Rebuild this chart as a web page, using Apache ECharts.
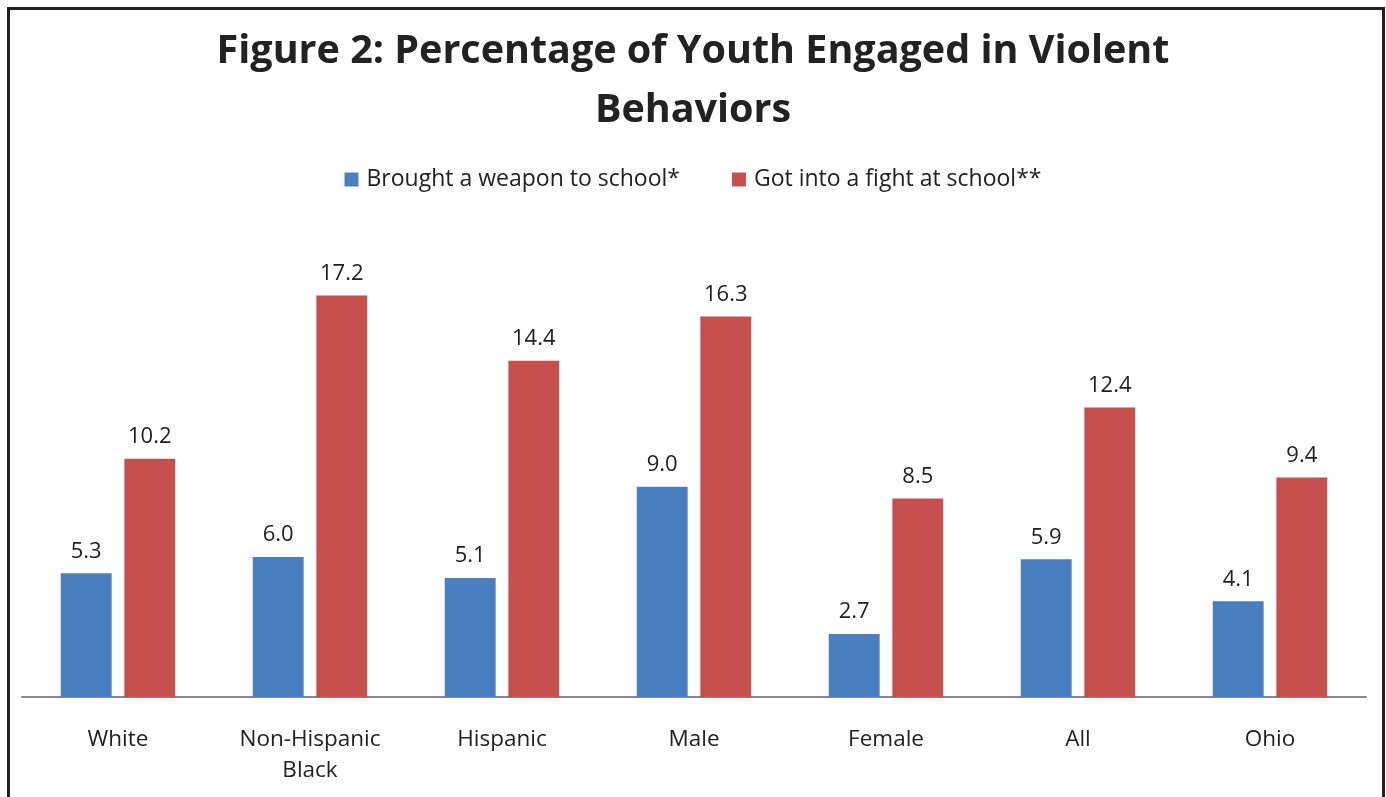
<!DOCTYPE html>
<html>
<head>
<meta charset="utf-8">
<script src="https://cdn.jsdelivr.net/npm/echarts@6/dist/echarts.min.js"></script>
<style>
  html, body { margin: 0; padding: 0; background: #fff; }
  #chart { width: 1386px; height: 797px; }
</style>
</head>
<body>
<div id="chart"></div>
<script>
const categories = ['White', 'Non-Hispanic\nBlack', 'Hispanic', 'Male', 'Female', 'All', 'Ohio'];
const weaponValues = [5.3, 6.0, 5.1, 9.0, 2.7, 5.9, 4.1];
const fightValues = [10.2, 17.2, 14.4, 16.3, 8.5, 12.4, 9.4];
const seriesNames = ['Brought a weapon to school*', 'Got into a fight at school**'];

const FONT = '"Open Sans", "Noto Sans", sans-serif';
const chart = echarts.init(document.getElementById('chart'));

const labelStyle = {
  show: true,
  position: 'top',
  distance: 11,
  fontFamily: FONT,
  fontSize: 22,
  color: '#222',
  formatter: p => p.value.toFixed(1)
};

chart.setOption({
  animation: false,
  title: {
    text: 'Figure 2: Percentage of Youth Engaged in Violent\nBehaviors',
    left: 'center',
    top: 17,
    textStyle: {
      fontFamily: FONT,
      fontWeight: 'bold',
      fontSize: 39.5,
      lineHeight: 59,
      color: '#222'
    }
  },
  legend: {
    top: 163,
    left: 'center',
    itemWidth: 14,
    itemHeight: 14,
    itemGap: 52,
    icon: 'rect',
    textStyle: { fontFamily: FONT, fontSize: 23, color: '#222', padding: [0, 0, 0, 3] },
    data: seriesNames
  },
  grid: { left: 22, right: 20, top: 230, bottom: 100 },
  xAxis: {
    type: 'category',
    data: categories,
    axisLine: { lineStyle: { color: '#888', width: 2 } },
    axisTick: { show: false },
    axisLabel: {
      fontFamily: FONT,
      fontSize: 22.5,
      color: '#222',
      lineHeight: 31,
      margin: 27
    }
  },
  yAxis: {
    type: 'value',
    min: 0,
    max: 20,
    show: false
  },
  series: [
    {
      name: seriesNames[0],
      type: 'bar',
      data: weaponValues,
      barWidth: '26.5%',
      barGap: '25%',
      itemStyle: { color: '#4A80BF' },
      label: labelStyle
    },
    {
      name: seriesNames[1],
      type: 'bar',
      data: fightValues,
      barWidth: '26.5%',
      itemStyle: { color: '#C6504E' },
      label: labelStyle
    }
  ],
  graphic: [
    {
      type: 'rect',
      shape: { x: 8.5, y: 8.5, width: 1375, height: 800 },
      style: { fill: 'none', stroke: '#222', lineWidth: 3 },
      silent: true
    }
  ]
});
</script>
</body>
</html>
